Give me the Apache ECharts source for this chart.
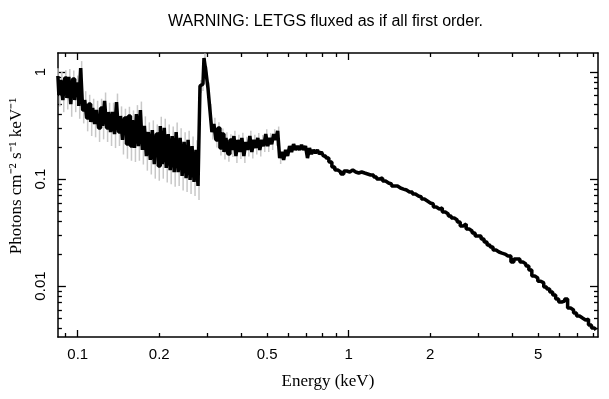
<!DOCTYPE html>
<html>
<head>
<meta charset="utf-8">
<script src="https://cdn.jsdelivr.net/npm/echarts@6/dist/echarts.min.js"></script>
<style>
  html, body { margin: 0; padding: 0; background: #fff; }
  #chart { width: 609px; height: 399px; }
</style>
</head>
<body>
<div id="chart"></div>
<script>
// soft band (below the 0.28 keV edge), energies in keV, flux in photons/cm2/s/keV
var softE = [0.0845,0.0859,0.0874,0.0888,0.0904,0.0919,0.0935,0.0950,0.0967,0.0983,
  0.1000,0.1017,0.1034,0.1052,0.1070,0.1088,0.1107,0.1126,0.1145,0.1164,
  0.1184,0.1204,0.1225,0.1246,0.1267,0.1289,0.1311,0.1333,0.1356,0.1379,
  0.1402,0.1426,0.1451,0.1475,0.1500,0.1526,0.1552,0.1579,0.1606,0.1633,
  0.1661,0.1689,0.1718,0.1747,0.1777,0.1807,0.1838,0.1869,0.1901,0.1933,
  0.1966,0.2000,0.2034,0.2069,0.2104,0.2140,0.2176,0.2213,0.2251,0.2289,
  0.2328,0.2368,0.2408,0.2449,0.2491,0.2533,0.2577,0.2620,0.2665,0.2710,
  0.2756,0.2803];
var softFlux = [0.918,0.610,0.842,0.547,0.879,0.571,0.898,0.502,0.860,0.547,
  0.772,0.481,1.090,0.441,0.547,0.372,0.502,0.341,0.461,0.327,
  0.441,0.300,0.461,0.313,0.536,0.300,0.423,0.275,0.423,0.263,
  0.524,0.275,0.388,0.232,0.372,0.212,0.388,0.203,0.356,0.195,
  0.405,0.203,0.441,0.187,0.313,0.164,0.275,0.151,0.287,0.138,
  0.263,0.132,0.313,0.138,0.300,0.127,0.263,0.121,0.252,0.116,
  0.275,0.116,0.242,0.107,0.222,0.102,0.232,0.098,0.203,0.094,
  0.187,0.086];
var softErr = [0.18,0.22,0.19,0.23,0.18,0.22,0.19,0.24,0.20,0.23,
  0.20,0.24,0.16,0.25,0.21,0.25,0.22,0.26,0.22,0.25,
  0.22,0.26,0.22,0.25,0.20,0.26,0.22,0.26,0.22,0.26,
  0.20,0.26,0.23,0.27,0.22,0.27,0.22,0.27,0.23,0.26,
  0.21,0.27,0.20,0.27,0.23,0.27,0.23,0.27,0.23,0.27,
  0.23,0.27,0.22,0.27,0.22,0.27,0.23,0.26,0.23,0.27,
  0.23,0.26,0.23,0.27,0.23,0.26,0.22,0.26,0.23,0.26,
  0.23,0.26];

// carbon edge and the band up to 0.8 keV
var edgeE = [0.2851,0.2899,0.2949,0.2999,0.3050,0.3102,0.3154,0.3208,0.3263,0.3320,
  0.3377,0.3435,0.3494,0.3553,0.3614,0.3676,0.3739,0.3803,0.3868,0.3934,
  0.4001,0.4069,0.4139,0.4209,0.4281,0.4354,0.4428,0.4504,0.4580,0.4658,
  0.4738,0.4818,0.4900,0.4984,0.5069,0.5155,0.5243,0.5333,0.5423,0.5516,
  0.5610,0.5705,0.5802,0.5901,0.6002,0.6104,0.6208,0.6314,0.6421,0.6531,
  0.6642,0.6755,0.6871,0.6987,0.7106,0.7228,0.7351,0.7476,0.7603,0.7733,
  0.7865,0.7999,0.8135];
var edgeFlux = [0.740,0.772,1.352,1.000,0.709,0.441,0.275,0.327,0.232,0.300,
  0.195,0.263,0.179,0.242,0.171,0.232,0.187,0.252,0.164,0.232,
  0.179,0.242,0.164,0.222,0.187,0.252,0.179,0.232,0.195,0.242,
  0.187,0.232,0.203,0.263,0.203,0.242,0.212,0.263,0.232,0.281,
  0.157,0.179,0.151,0.187,0.164,0.203,0.179,0.212,0.187,0.203,
  0.187,0.208,0.187,0.203,0.157,0.195,0.171,0.187,0.175,0.187,
  0.171,0.179,0.164];
var edgeErr = [0.14,0.14,0.10,0.12,0.13,0.14,0.15,0.14,0.15,0.13,
  0.15,0.13,0.15,0.13,0.15,0.13,0.14,0.12,0.14,0.12,
  0.14,0.12,0.14,0.12,0.13,0.12,0.13,0.12,0.13,0.11,
  0.13,0.11,0.12,0.11,0.12,0.11,0.12,0.11,0.12,0.10,
  0.12];

// hard band
var hardE = [0.834,0.856,0.878,0.900,0.923,0.947,0.972,0.997,1.022,1.049,
  1.075,1.103,1.131,1.160,1.190,1.221,1.252,1.284,1.317,1.351,
  1.386,1.421,1.458,1.495,1.534,1.573,1.614,1.655,1.698,1.741,
  1.786,1.832,1.879,1.927,1.977,2.027,2.080,2.133,2.188,2.244,
  2.302,2.361,2.421,2.484,2.547,2.613,2.680,2.749,2.819,2.892,
  2.966,3.042,3.120,3.200,3.283,3.367,3.453,3.542,3.633,3.726,
  3.822,3.920,4.021,4.124,4.230,4.339,4.450,4.564,4.682,4.802,
  4.925,5.052,5.181,5.314,5.451,5.591,5.734,5.881,6.032,6.187,
  6.346,6.509,6.676,6.847,7.023,7.203,7.388,7.578,7.772,7.972,
  8.177];
var hardFlux = [0.157,0.144,0.1295,0.1214,0.1163,0.1114,0.1188,0.1163,0.1214,0.1163,
  0.1138,0.1163,0.1138,0.1114,0.1090,0.1090,0.1044,0.1000,0.1022,0.0958,
  0.0918,0.0898,0.0860,0.0860,0.0824,0.0806,0.0789,0.0756,0.0756,0.0724,
  0.0694,0.0679,0.0650,0.0623,0.0597,0.0584,0.0547,0.0524,0.0536,0.0491,
  0.0471,0.0451,0.0432,0.0414,0.0396,0.0364,0.0380,0.0341,0.0327,0.0313,
  0.0293,0.0293,0.0275,0.0258,0.0242,0.0231,0.0217,0.0208,0.0203,0.0199,
  0.0191,0.0191,0.0168,0.0179,0.0179,0.0168,0.0161,0.0154,0.0141,0.0124,
  0.0119,0.0111,0.0107,0.00979,0.00937,0.00879,0.00824,0.00756,0.00709,0.00724,
  0.00756,0.00623,0.00597,0.00559,0.00524,0.00502,0.00481,0.00491,0.00432,0.00405,
  0.00388];

// axes
var xRange = [0.0845, 8.32];
var yRange = [0.00334, 1.505];
var xLabels = [0.1, 0.2, 0.5, 1, 2, 5];
var xMajor = [0.1, 1];
var xMinor = [0.09, 0.2, 0.3, 0.4, 0.5, 0.6, 0.7, 0.8, 0.9, 2, 3, 4, 5, 6, 7, 8];
var yLabels = [0.01, 0.1, 1];
var yMajor = [0.01, 0.1, 1];
var yMinor = [0.004, 0.005, 0.006, 0.007, 0.008, 0.009,
  0.02, 0.03, 0.04, 0.05, 0.06, 0.07, 0.08, 0.09,
  0.2, 0.3, 0.4, 0.5, 0.6, 0.7, 0.8, 0.9];

var lg = Math.log10;
var energy = softE.concat(edgeE, hardE);
var flux = softFlux.concat(edgeFlux, hardFlux);
var relErr = softErr.concat(edgeErr);

var lineData = energy.map(function (e, i) {
  return [lg(e), lg(flux[i])];
});
var errData = relErr.map(function (r, i) {
  return [lg(energy[i]), lg(flux[i] * (1 - r)), lg(flux[i] * (1 + r))];
});

var sans = 'Liberation Sans';
var serif = 'Liberation Serif';

function fmt(v) {
  return String(+Math.pow(10, v).toPrecision(2));
}

function axis(pos, range, ticks, len, labels, showLine, extra) {
  var a = {
    type: 'value',
    position: pos,
    min: lg(range[0]),
    max: lg(range[1]),
    axisLine: { show: showLine, onZero: false, lineStyle: { color: '#000', width: 1.5 } },
    axisTick: {
      show: true, inside: true, length: len,
      customValues: ticks.map(lg),
      lineStyle: { color: '#000', width: 1.3 }
    },
    axisLabel: { show: false },
    splitLine: { show: false }
  };
  if (labels) {
    a.axisLabel = {
      show: true,
      customValues: labels.map(lg),
      formatter: fmt,
      fontFamily: sans,
      fontSize: 15,
      color: '#000'
    };
  }
  if (extra) {
    for (var k in extra) a[k] = extra[k];
  }
  return a;
}

var chart = echarts.init(document.getElementById('chart'));

var xBottom = axis('bottom', xRange, xMajor, 7, xLabels, true, {
  name: 'Energy (keV)',
  nameLocation: 'middle',
  nameGap: 36,
  nameTextStyle: { fontFamily: serif, fontSize: 17, color: '#000' }
});
xBottom.axisLabel.margin = 10;

var yLeft = axis('left', yRange, yMajor, 8, yLabels, true, {
  name: 'Photons cm⁻² s⁻¹ keV⁻¹',
  nameLocation: 'middle',
  nameGap: 32,
  nameTextStyle: { fontFamily: serif, fontSize: 17, color: '#000', padding: [0, 0, 0, 38] }
});
yLeft.axisLabel.rotate = 90;
yLeft.axisLabel.margin = 10;

var option = {
  backgroundColor: '#fff',
  animation: false,
  title: {
    text: 'WARNING: LETGS fluxed as if all first order.',
    left: 163,
    top: 9,
    textStyle: { fontFamily: sans, fontSize: 16, fontWeight: 'normal', color: '#000' }
  },
  grid: { left: 48, right: 11, top: 53, bottom: 62 },
  xAxis: [
    xBottom,
    axis('bottom', xRange, xMinor, 4, null, false),
    axis('top', xRange, xMajor, 7, null, true),
    axis('top', xRange, xMinor, 4, null, false)
  ],
  yAxis: [
    yLeft,
    axis('left', yRange, yMinor, 4, null, false),
    axis('right', yRange, yMajor, 8, null, true),
    axis('right', yRange, yMinor, 4, null, false)
  ],
  series: [
    {
      name: 'errors',
      type: 'custom',
      xAxisIndex: 0,
      yAxisIndex: 0,
      data: errData,
      z: 1,
      renderItem: function (params, api) {
        var lo = api.coord([api.value(0), api.value(1)]);
        var hi = api.coord([api.value(0), api.value(2)]);
        return {
          type: 'line',
          shape: { x1: lo[0], y1: lo[1], x2: hi[0], y2: hi[1] },
          style: { stroke: '#c8c8c8', lineWidth: 1.5 }
        };
      }
    },
    {
      name: 'flux',
      type: 'line',
      xAxisIndex: 0,
      yAxisIndex: 0,
      step: 'middle',
      showSymbol: false,
      symbol: 'none',
      z: 3,
      lineStyle: { color: '#000', width: 3.5 },
      data: lineData
    }
  ]
};

chart.setOption(option);
</script>
</body>
</html>
